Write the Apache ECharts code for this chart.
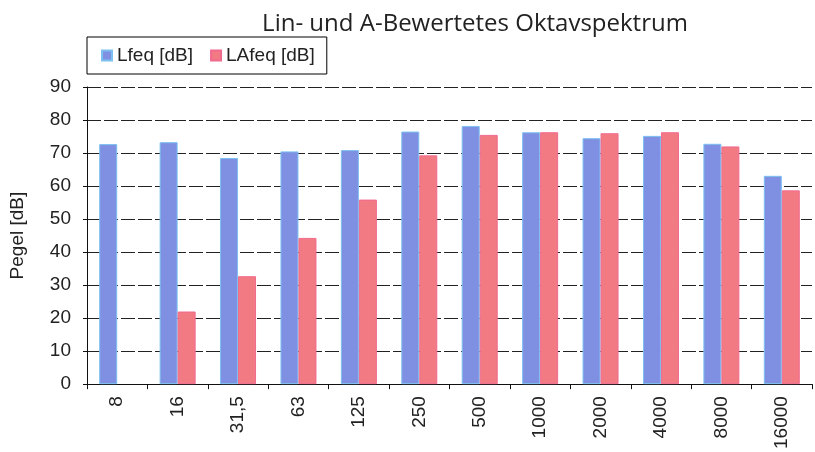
<!DOCTYPE html>
<html>
<head>
<meta charset="utf-8">
<script src="https://cdn.jsdelivr.net/npm/echarts@6/dist/echarts.min.js"></script>
<style>
  html, body { margin: 0; padding: 0; background: #fff; }
  #chart { width: 815px; height: 452px; }
</style>
</head>
<body>
<div id="chart"></div>
<script>
// Oktavbänder (Hz)
const bands = ['8', '16', '31,5', '63', '125', '250', '500', '1000', '2000', '4000', '8000', '16000'];
const lfeq = [72.7, 73.3, 68.5, 70.5, 70.9, 76.5, 78.2, 76.3, 74.5, 75.2, 72.8, 63.1];
const lafeq = [null, 22.0, 32.7, 44.3, 55.9, 69.3, 75.5, 76.3, 76.0, 76.3, 72.0, 58.7];
const yTicks = { min: 0, max: 90, step: 10 };

const chart = echarts.init(document.getElementById('chart'));

chart.setOption({
  animation: false,
  backgroundColor: '#fff',
  title: {
    text: 'Lin- und A-Bewertetes Oktavspektrum',
    left: 470,
    textAlign: 'center',
    top: 7,
    textStyle: { fontFamily: 'Open Sans', fontSize: 24, fontWeight: 'normal', color: '#222' }
  },
  legend: {
    left: 87,
    top: 37,
    itemWidth: 10,
    itemHeight: 10,
    itemGap: 17,
    padding: [9, 12, 9, 14],
    borderColor: '#000',
    borderWidth: 1,
    icon: 'rect',
    textStyle: { fontFamily: 'Liberation Sans', fontSize: 19, color: '#222' },
    data: ['Lfeq [dB]', 'LAfeq [dB]']
  },
  grid: { left: 87, right: 3, top: 87, bottom: 67 },
  xAxis: {
    type: 'category',
    data: bands,
    axisLine: { lineStyle: { color: '#111', width: 1 } },
    axisTick: { show: true, length: 5, lineStyle: { color: '#111' } },
    axisLabel: {
      rotate: 90,
      margin: 12,
      fontFamily: 'Liberation Sans',
      fontSize: 19,
      color: '#222'
    }
  },
  yAxis: {
    type: 'value',
    min: yTicks.min,
    max: yTicks.max,
    interval: yTicks.step,
    name: 'Pegel [dB]',
    nameLocation: 'middle',
    nameGap: 60,
    nameTextStyle: { fontFamily: 'Liberation Sans', fontSize: 19, color: '#222' },
    axisLine: { show: true, lineStyle: { color: '#111', width: 1 } },
    axisTick: { show: true, length: 4, lineStyle: { color: '#111' } },
    axisLabel: { margin: 16, fontFamily: 'Liberation Sans', fontSize: 19, color: '#222' },
    splitLine: { show: true, lineStyle: { color: '#222', width: 1, type: [14, 3] } }
  },
  series: [
    {
      name: 'Lfeq [dB]',
      type: 'bar',
      data: lfeq,
      barWidth: 18,
      barGap: '0%',
      itemStyle: { color: '#7f90e2', borderColor: '#7cc0f0', borderWidth: 1 }
    },
    {
      name: 'LAfeq [dB]',
      type: 'bar',
      data: lafeq,
      barWidth: 18,
      barGap: '0%',
      itemStyle: { color: '#f27a82', borderColor: '#f06a90', borderWidth: 1 }
    }
  ]
});
</script>
</body>
</html>
